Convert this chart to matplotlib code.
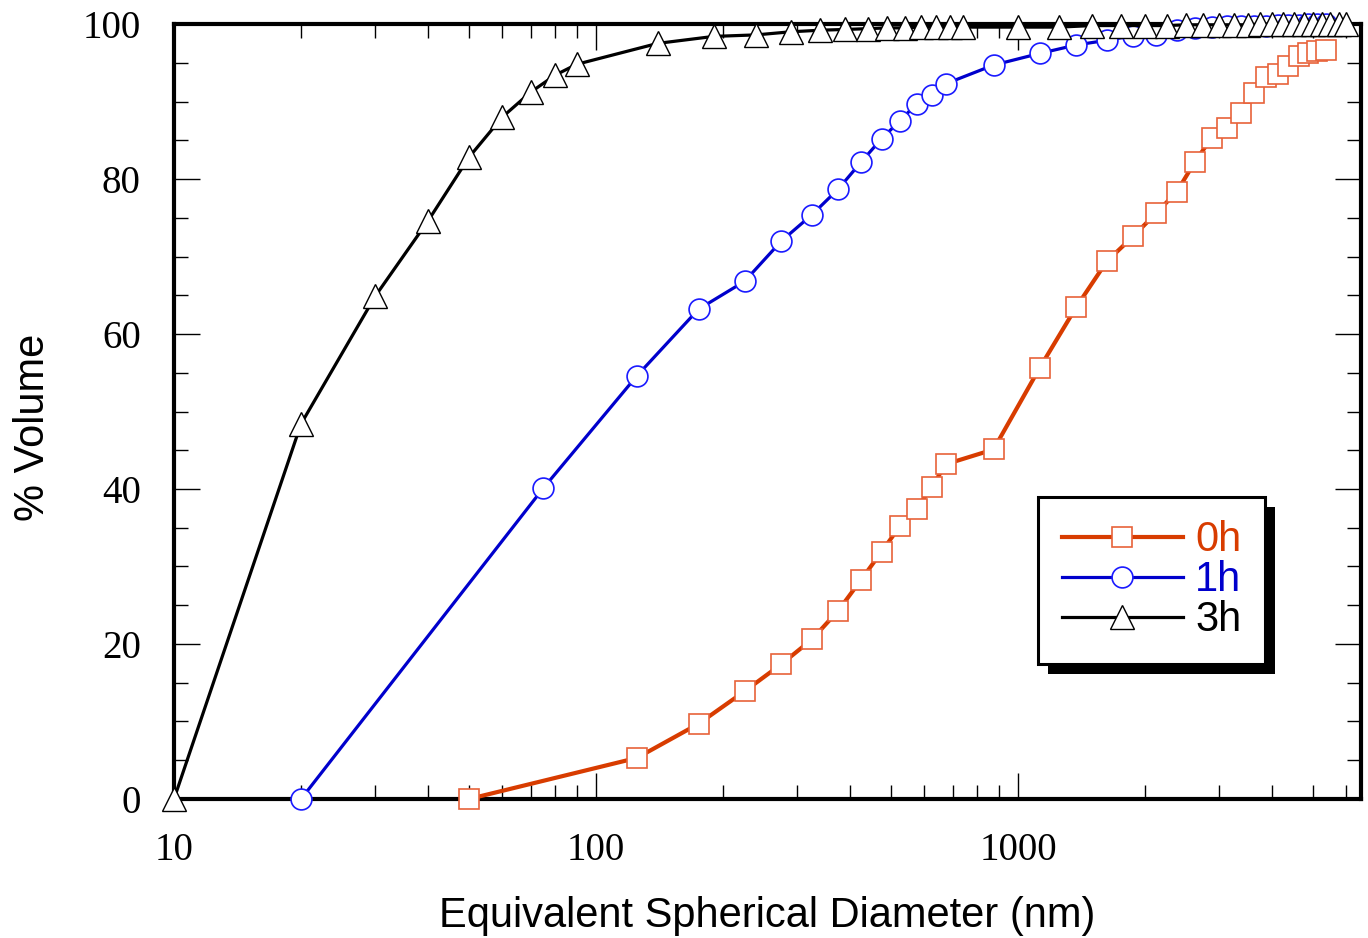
import numpy as np
import matplotlib.pyplot as plt
from matplotlib.patches import Rectangle

# particle size distributions, cumulative % volume vs diameter (nm)
d_0h = [50, 125, 175, 225, 275, 325, 375, 425, 475, 525, 575, 625, 675, 875,
        1125, 1375, 1625, 1875, 2125, 2375, 2625, 2875, 3125, 3375, 3625, 3875,
        4125, 4375, 4625, 4875, 5125, 5375]
v_0h = [0, 5.3, 9.7, 13.9, 17.4, 20.6, 24.3, 28.3, 31.9, 35.2, 37.4, 40.3, 43.2, 45.1,
        55.6, 63.5, 69.4, 72.6, 75.6, 78.3, 82.2, 85.3, 86.6, 88.5, 91.1, 93.1,
        93.5, 94.6, 95.9, 96.2, 96.5, 96.6]

d_1h = [20, 75, 125, 175, 225, 275, 325, 375, 425, 475, 525, 575, 625, 675, 875,
        1125, 1375, 1625, 1875, 2125, 2375, 2625, 2875, 3125, 3375, 3625, 3875,
        4125, 4375, 4625, 4875, 5125, 5375]
v_1h = [0, 40.1, 54.6, 63.2, 66.8, 72.0, 75.4, 78.7, 82.2, 85.2, 87.5, 89.7, 90.8, 92.3, 94.7,
        96.2, 97.3, 97.9, 98.5, 98.6, 99.2, 99.5, 99.6, 99.7, 99.7, 99.8, 99.8,
        99.9, 99.9, 99.9, 100, 100, 100]

d_3h = [10, 20, 30, 40, 50, 60, 70, 80, 90, 140, 190, 240, 290, 340, 390, 440, 490,
        540, 590, 640, 690, 740, 1000, 1250, 1500, 1750, 2000, 2250, 2500, 2750,
        3000, 3250, 3500, 3750, 4000, 4250, 4500, 4750, 5000, 5250, 5500, 5750, 6000]
v_3h = [0, 48.4, 64.9, 74.6, 82.8, 88.0, 91.2, 93.4, 94.8, 97.5, 98.4, 98.6, 99.0, 99.2,
        99.3, 99.4, 99.5, 99.5, 99.6, 99.6, 99.6, 99.6, 99.6, 99.6, 99.8, 99.8, 99.8,
        99.8, 99.9, 99.9, 99.9, 99.9, 99.9, 100, 100, 100, 100, 100, 100, 100, 100, 100, 100]

fig = plt.figure(figsize=(13.68, 9.38), dpi=100)
ax = fig.add_axes([0.1272, 0.1482, 0.8677, 0.8262])

ax.plot(d_0h, v_0h, '-s', color='#d83c00', lw=3, ms=15, mfc='white', mec='#e8623a',
        mew=1.2, label='0h', zorder=3, clip_on=False)
ax.plot(d_1h, v_1h, '-o', color='#0000cc', lw=2.3, ms=15, mfc='white', mec='#1a1aff',
        mew=1.2, label='1h', zorder=3, clip_on=False)
ax.plot(d_3h, v_3h, '-^', color='black', lw=2.3, ms=17, mfc='white', mec='black',
        mew=1.0, label='3h', zorder=3, clip_on=False)

ax.set_xscale('log')
ax.set_xlim(10, 6500)
ax.set_ylim(0, 100)
ax.set_yticks(np.arange(0, 101, 20))
ax.set_yticks(np.arange(0, 101, 5), minor=True)
ax.set_xticks([10, 100, 1000])
ax.set_xticklabels(['10', '100', '1000'])

for s in ax.spines.values():
    s.set_linewidth(3)
ax.tick_params(which='both', direction='in', top=True, right=True, width=1)
ax.tick_params(which='major', length=19, labelsize=28, labelfontfamily='Liberation Serif')
ax.tick_params(which='minor', length=10)
ax.tick_params(axis='x', which='major', pad=24)
ax.tick_params(axis='y', which='major', pad=24)

ax.set_xlabel('Equivalent Spherical Diameter (nm)', fontsize=30, family='Liberation Sans')
ax.set_ylabel('% Volume', fontsize=30, family='Liberation Sans')
ax.xaxis.set_label_coords(0.5, -0.125)
ax.yaxis.set_label_coords(-0.102, 0.479)

leg = ax.legend(loc='upper left', bbox_to_anchor=(0.728, 0.39), numpoints=1,
                prop={'family': 'Liberation Sans', 'size': 30}, handlelength=2.9,
                handletextpad=0.3, labelspacing=0.0, borderpad=0.57,
                borderaxespad=0, fancybox=False, framealpha=1)
leg.get_frame().set_edgecolor('black')
leg.get_frame().set_linewidth(2.2)
leg.set_zorder(6)
for txt, c in zip(leg.get_texts(), ['#d83c00', '#0000cc', 'black']):
    txt.set_color(c)

# solid drop shadow behind the legend box
fig.canvas.draw()
bb = leg.get_window_extent().transformed(fig.transFigure.inverted())
off_x, off_y = 10 / 1368, 10 / 938
ax.add_patch(Rectangle((bb.x0 + off_x, bb.y0 - off_y), bb.width, bb.height,
                       transform=fig.transFigure, facecolor='black',
                       edgecolor='none', zorder=5.5, clip_on=False))

fig.savefig('out.png', dpi=100)
